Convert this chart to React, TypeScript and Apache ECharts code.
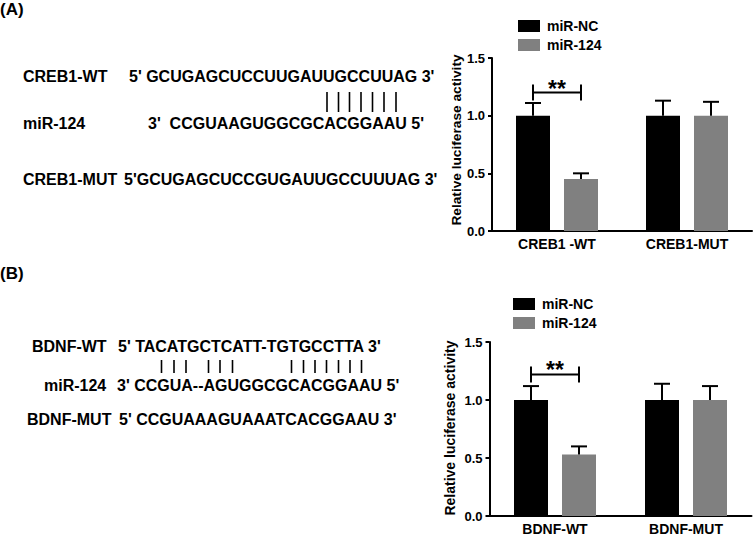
import React, { useEffect, useRef } from "react";
import * as echarts from "echarts";

// shared
const legendNames = ["miR-NC", "miR-124"];
const yTicks = [0, 0.5, 1.0, 1.5];
const yTitle = "Relative luciferase activity";

// panel A
const categoriesA = ["CREB1 -WT", "CREB1-MUT"];
const ncMeanA = [1.0, 1.0];
const ncErrA = [0.11, 0.13];
const mirMeanA = [0.45, 1.0];
const mirErrA = [0.05, 0.12];
const sigA = [0, 1.2]; // category index, bracket height

// panel B
const categoriesB = ["BDNF-WT", "BDNF-MUT"];
const ncMeanB = [1.0, 1.0];
const ncErrB = [0.12, 0.14];
const mirMeanB = [0.53, 1.0];
const mirErrB = [0.07, 0.12];
const sigB = [0, 1.22];

// sequence panels: [label, sequence]
const seqRowsA = [
    ["CREB1-WT", "5' GCUGAGCUCCUUGAUUGCCUUAG 3'"],
    ["miR-124", "3'  CCGUAAGUGGCGCACGGAAU 5'"],
    ["CREB1-MUT", "5'GCUGAGCUCCGUGAUUGCCUUUAG 3'"],
];
const seqRowsB = [
    ["BDNF-WT", "5' TACATGCTCATT-TGTGCCTTA 3'"],
    ["miR-124", "3' CCGUA--AGUGGCGCACGGAAU 5'"],
    ["BDNF-MUT", "5' CCGUAAAGUAAATCACGGAAU 3'"],
];

const FONT = "Liberation Sans, Arial, sans-serif";
const BLACK = "#000000";
const GRAY = "#808080";
const BAR_W = 34;
const BAR_GAP = 14;
const OFF = (BAR_W + BAR_GAP) / 2;

// text layout of the left side (x of label, x of sequence, y centre)
const rowLayoutA = [
    { lx: 23, sx: 129, y: 76 },
    { lx: 23, sx: 148, y: 123 },
    { lx: 23, sx: 124, y: 179 },
];
const rowLayoutB = [
    { lx: 32, sx: 118, y: 346 },
    { lx: 44, sx: 117, y: 385 },
    { lx: 27, sx: 119, y: 419 },
];
const pairXA = [327, 338.5, 349.5, 361, 372.5, 384, 396];
const pairXB = [161.5, 174, 186, 208.5, 220, 232.5, 291.5, 303.5, 315, 326.5, 338.5, 350, 361.5];

const txt = (text: string, x: number, y: number, size = 16) => ({
    type: "text",
    x,
    y,
    style: {
        text,
        fill: BLACK,
        font: `bold ${size}px ${FONT}`,
        align: "left",
        verticalAlign: "middle",
    },
});

const pairLines = (xs: number[], y1: number, y2: number) =>
    xs.map((x) => ({
        type: "line",
        shape: { x1: x, y1, x2: x, y2 },
        style: { stroke: BLACK, lineWidth: 1.6 },
    }));

const axisFont = {
    fontFamily: FONT,
    fontWeight: "bold",
    fontSize: 13,
    color: BLACK,
};

function panel(
    i: number,
    cats: string[],
    ncM: number[],
    ncE: number[],
    mirM: number[],
    mirE: number[],
    sig: number[],
    nameGap: number,
    nameSize: number,
    namePad: number[]
) {
    const xAxis = {
        gridIndex: i,
        type: "category",
        data: cats,
        axisLine: { lineStyle: { color: BLACK, width: 2 } },
        axisTick: { alignWithLabel: true, length: 5, lineStyle: { color: BLACK, width: 2 } },
        axisLabel: { ...axisFont, fontSize: 14, margin: 6 },
    };
    const yAxis = {
        gridIndex: i,
        type: "value",
        min: yTicks[0],
        max: yTicks[yTicks.length - 1],
        interval: yTicks[1] - yTicks[0],
        name: yTitle,
        nameLocation: "middle",
        nameRotate: 90,
        nameGap,
        nameTextStyle: { ...axisFont, fontSize: nameSize, padding: namePad },
        axisLine: { show: true, lineStyle: { color: BLACK, width: 2 } },
        axisTick: { show: true, length: 4, lineStyle: { color: BLACK, width: 2 } },
        axisLabel: { ...axisFont, margin: 7, formatter: (v: number) => v.toFixed(1) },
        splitLine: { show: false },
    };
    const bars = [
        { name: legendNames[0], data: ncM, color: BLACK },
        { name: legendNames[1], data: mirM, color: GRAY },
    ].map((s) => ({
        type: "bar",
        name: s.name,
        xAxisIndex: i,
        yAxisIndex: i,
        data: s.data,
        barWidth: BAR_W,
        barGap: `${(BAR_GAP / BAR_W) * 100}%`,
        itemStyle: { color: s.color },
        silent: true,
    }));
    const errData = cats.flatMap((_, c) => [
        [c, ncM[c], ncM[c] + ncE[c], -1],
        [c, mirM[c], mirM[c] + mirE[c], 1],
    ]);
    const errors = {
        type: "custom",
        name: `err${i}`,
        xAxisIndex: i,
        yAxisIndex: i,
        z: 5,
        silent: true,
        data: errData,
        encode: { x: 0, y: 2 },
        renderItem: (_p: any, api: any) => {
            const base = api.coord([api.value(0), api.value(1)]);
            const top = api.coord([api.value(0), api.value(2)]);
            const x = base[0] + api.value(3) * OFF;
            return {
                type: "group",
                children: [
                    { type: "line", shape: { x1: x, y1: base[1], x2: x, y2: top[1] }, style: { stroke: BLACK, lineWidth: 2 } },
                    { type: "line", shape: { x1: x - 8, y1: top[1], x2: x + 8, y2: top[1] }, style: { stroke: BLACK, lineWidth: 2 } },
                ],
            };
        },
    };
    const bracket = {
        type: "custom",
        name: `sig${i}`,
        xAxisIndex: i,
        yAxisIndex: i,
        z: 5,
        silent: true,
        data: [sig],
        encode: { x: 0, y: 1 },
        renderItem: (_p: any, api: any) => {
            const c = api.coord([api.value(0), api.value(1)]);
            const x1 = c[0] - OFF;
            const x2 = c[0] + OFF;
            const st = { stroke: BLACK, lineWidth: 2 };
            return {
                type: "group",
                children: [
                    { type: "line", shape: { x1, y1: c[1], x2, y2: c[1] }, style: st },
                    { type: "line", shape: { x1, y1: c[1] - 8, x2: x1, y2: c[1] + 8 }, style: st },
                    { type: "line", shape: { x1: x2, y1: c[1] - 8, x2, y2: c[1] + 8 }, style: st },
                    {
                        type: "text",
                        x: c[0],
                        y: c[1] - 4,
                        style: {
                            text: "**",
                            fill: BLACK,
                            font: `bold 23px ${FONT}`,
                            align: "center",
                            verticalAlign: "middle",
                        },
                    },
                ],
            };
        },
    };
    return { xAxis, yAxis, series: [...bars, errors, bracket] };
}

const legendCommon = {
    data: legendNames,
    orient: "vertical",
    icon: "rect",
    itemWidth: 22,
    itemHeight: 12,
    itemGap: 5,
    selectedMode: false,
    textStyle: { fontFamily: FONT, fontWeight: "bold", fontSize: 14, color: BLACK, padding: [0, 0, 0, 2] },
};

const App: React.FC = () => {
    const ref = useRef<HTMLDivElement>(null);

    useEffect(() => {
        if (!ref.current) return;
        const chart = echarts.init(ref.current, undefined, { renderer: "svg" });

        const a = panel(0, categoriesA, ncMeanA, ncErrA, mirMeanA, mirErrA, sigA, 27, 13.7, [0, 0, 0, 9]);
        const b = panel(1, categoriesB, ncMeanB, ncErrB, mirMeanB, mirErrB, sigB, 33, 14, [0, 0, 0, 2]);

        const graphic: any[] = [
            txt("(A)", 0, 9, 17),
            txt("(B)", 0, 273, 17),
            ...seqRowsA.flatMap((r, k) => [txt(r[0], rowLayoutA[k].lx, rowLayoutA[k].y), txt(r[1], rowLayoutA[k].sx, rowLayoutA[k].y)]),
            ...seqRowsB.flatMap((r, k) => [txt(r[0], rowLayoutB[k].lx, rowLayoutB[k].y), txt(r[1], rowLayoutB[k].sx, rowLayoutB[k].y)]),
            ...pairLines(pairXA, 92, 112),
            ...pairLines(pairXB, 360, 373),
        ];

        chart.setOption({
            animation: false,
            backgroundColor: "#ffffff",
            grid: [
                { left: 492, top: 58, width: 260, height: 173 },
                { left: 489.5, top: 342, width: 262, height: 174 },
            ],
            legend: [
                { ...legendCommon, left: 513, top: 14 },
                { ...legendCommon, left: 508, top: 292 },
            ],
            xAxis: [a.xAxis, b.xAxis],
            yAxis: [a.yAxis, b.yAxis],
            series: [...a.series, ...b.series],
            graphic,
        });

        return () => {
            chart.dispose();
        };
    }, []);

    return <div ref={ref} style={{ position: "absolute", left: 0, top: 0, width: 755, height: 536 }} />;
};

export default App;
